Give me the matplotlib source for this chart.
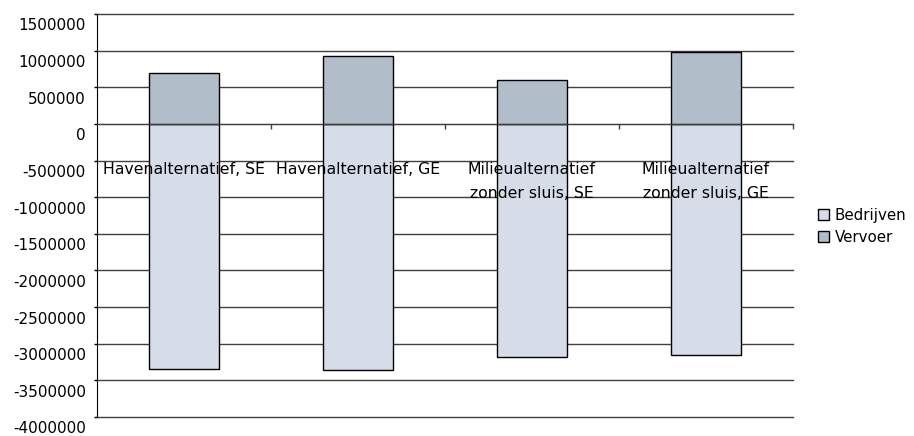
import numpy as np
import matplotlib.pyplot as plt
from matplotlib.transforms import ScaledTranslation

categories = ["Havenalternatief, SE", "Havenalternatief, GE",
              "Milieualternatief\nzonder sluis, SE", "Milieualternatief\nzonder sluis, GE"]
bedrijven = [-3340000, -3365000, -3180000, -3155000]
vervoer = [690000, 929000, 596000, 978000]
yticks = np.arange(-4000000, 1500001, 500000)

plt.rcParams['font.family'] = 'DejaVu Sans'

fig = plt.figure(figsize=(9.14, 4.36), dpi=100)
ax = fig.add_axes([0.1061, 0.0436, 0.7615, 0.9243])

x = np.arange(len(categories))
ax.bar(x, bedrijven, width=0.4, color='#d6dce8', edgecolor='black', linewidth=1, label='Bedrijven', zorder=2)
ax.bar(x, vervoer, width=0.4, color='#b2bdca', edgecolor='black', linewidth=1, label='Vervoer', zorder=2)

ax.set_xlim(-0.5, 3.5)
ax.set_ylim(-4000000, 1500000)
ax.set_yticks(yticks)
ax.set_yticklabels([str(v) for v in yticks], fontsize=11)
ax.yaxis.grid(True, color='#404040', linewidth=1)
ax.set_axisbelow(True)
for line in ax.get_ygridlines():
    line.set_clip_on(False)
ax.tick_params(axis='y', length=2, width=1, pad=6)

# tick labels sit a little below their gridlines
offset = ScaledTranslation(0, -10.5 / 100, fig.dpi_scale_trans)
for lab in ax.get_yticklabels():
    lab.set_transform(lab.get_transform() + offset)

# category axis crosses at zero
ax.spines['bottom'].set_position(('data', 0))
ax.spines['bottom'].set_color('#404040')
ax.spines['top'].set_visible(False)
ax.spines['right'].set_visible(False)
ax.set_xticks([0.5, 1.5, 2.5, 3.5])
ax.set_xticklabels([])
ax.tick_params(axis='x', direction='out', length=3.6, width=1, color='#404040')

for i, name in enumerate(categories):
    ax.annotate(name, xy=(i, 0), xytext=(0, -27.5), textcoords='offset points',
                ha='center', va='top', fontsize=11.3, linespacing=1.75, zorder=5)

fig.legend(loc='upper left', bbox_to_anchor=(0.888, 0.537), frameon=False,
           fontsize=10.8, handlelength=0.75, handleheight=0.75, handletextpad=0.4,
           labelspacing=0.45, borderaxespad=0)

fig.savefig('out.png', dpi=100)
